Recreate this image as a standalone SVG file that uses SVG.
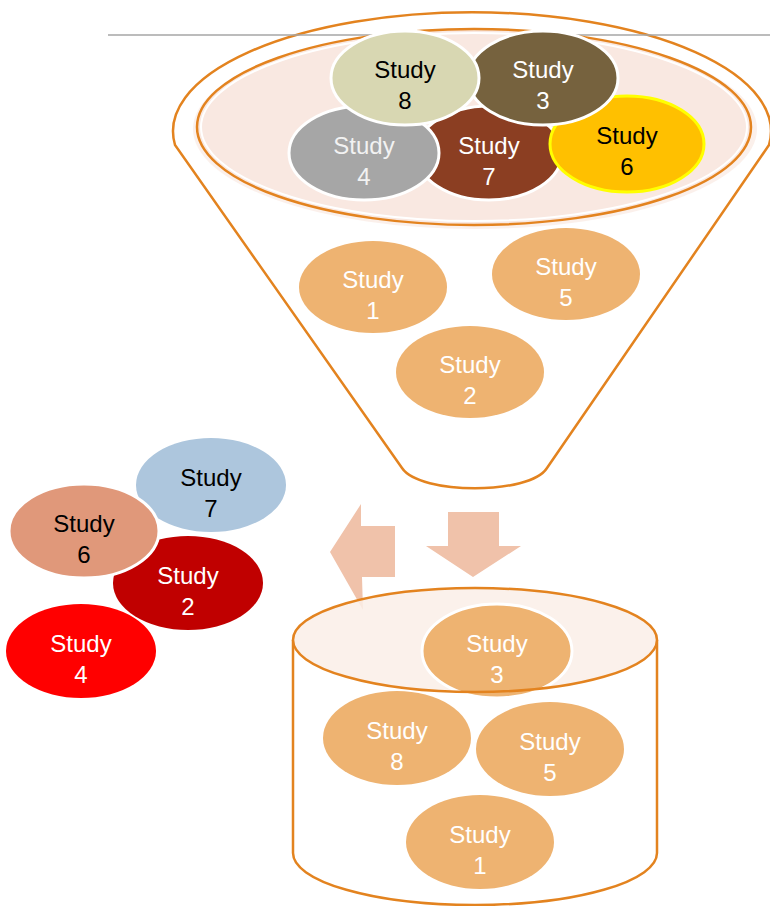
<svg xmlns="http://www.w3.org/2000/svg" width="770" height="906" viewBox="0 0 770 906">
<style>
.t{font-family:"Liberation Sans",Arial,sans-serif;font-size:24px;text-anchor:middle}
.w{fill:#ffffff}
.k{fill:#000000}
.or{fill:#EEB371}
.ws{stroke:#ffffff;stroke-width:3}
.edge{fill:none;stroke:#E3831F;stroke-width:2.5}
.arrow{fill:#F0C2AA}
</style>
<rect width="770" height="906" fill="#ffffff"/>

<g id="funnel">
  <path d="M175,145 A299,119 0 1 1 769,145 L547,468 C530,495 420,495 402,468 Z" fill="#ffffff" stroke="#E3831F" stroke-width="2.5"/>
</g>
<line x1="108" y1="35" x2="770" y2="35" stroke="#A6A6A6" stroke-width="1.5"/>
<g id="funnel-top">
  <ellipse cx="475" cy="129" rx="282" ry="100" fill="#F8E1D8" opacity="0.5"/>
  <ellipse cx="474" cy="127" rx="277" ry="98" fill="#F9E8E1" stroke="#E3831F" stroke-width="2.5"/>
  <ellipse cx="474" cy="127" rx="273" ry="94" fill="none" stroke="#ffffff" stroke-width="2"/>
</g>

<g id="f-study7"><ellipse cx="489" cy="153" rx="73" ry="47" fill="#8B3E22" class="ws"/><text class="t w" x="489" y="154">Study</text><text class="t w" x="489" y="185">7</text></g>
<g id="f-study6"><ellipse cx="627" cy="144" rx="77" ry="48" fill="#FFC000" stroke="#FFFF00" stroke-width="3"/><text class="t k" x="627" y="144">Study</text><text class="t k" x="627" y="175">6</text></g>
<g id="f-study3"><ellipse cx="543" cy="78" rx="75" ry="47" fill="#76623E" class="ws"/><text class="t w" x="543" y="78">Study</text><text class="t w" x="543" y="109">3</text></g>
<g id="f-study4"><ellipse cx="364" cy="153" rx="75" ry="47" fill="#A6A6A6" class="ws"/><text class="t" fill="#F2F2F2" x="364" y="154">Study</text><text class="t" fill="#F2F2F2" x="364" y="185">4</text></g>
<g id="f-study8"><ellipse cx="405" cy="78" rx="74" ry="47" fill="#D8D7B2" class="ws"/><text class="t k" x="405" y="78">Study</text><text class="t k" x="405" y="109">8</text></g>

<g id="f-study1"><ellipse cx="373" cy="287" rx="74" ry="46" class="or"/><text class="t w" x="373" y="288">Study</text><text class="t w" x="373" y="319">1</text></g>
<g id="f-study5"><ellipse cx="566" cy="274" rx="74" ry="46" class="or"/><text class="t w" x="566" y="275">Study</text><text class="t w" x="566" y="306">5</text></g>
<g id="f-study2"><ellipse cx="470" cy="372" rx="74" ry="46" class="or"/><text class="t w" x="470" y="373">Study</text><text class="t w" x="470" y="404">2</text></g>

<g id="l-study7"><ellipse cx="211" cy="485" rx="75" ry="47" fill="#ADC6DD"/><text class="t k" x="211" y="486">Study</text><text class="t k" x="211" y="517">7</text></g>
<g id="l-study2"><ellipse cx="188" cy="583" rx="75" ry="47" fill="#C00000"/><text class="t w" x="188" y="584">Study</text><text class="t w" x="188" y="615">2</text></g>
<g id="l-study6"><ellipse cx="84" cy="531" rx="75" ry="47" fill="#E0987A" class="ws"/><text class="t k" x="84" y="532">Study</text><text class="t k" x="84" y="563">6</text></g>
<g id="l-study4"><ellipse cx="81" cy="651" rx="75" ry="47" fill="#FF0000"/><text class="t w" x="81" y="652">Study</text><text class="t w" x="81" y="683">4</text></g>

<g id="connectors">
  <path class="arrow" d="M448,512 L499,512 L499,546 L521,546 L473,577 L426,546 L448,546 Z"/>
  <path class="arrow" d="M395,526 L395,577 L362,577 L363,610 L330,552 L361,504 L361,526 Z"/>
</g>

<g id="cylinder">
  <path d="M293,640 L293,853 A182,52 0 0 0 657,853 L657,640" fill="#ffffff" stroke="#E3831F" stroke-width="2.5"/>
  <ellipse cx="475" cy="640" rx="182" ry="52" fill="#FAEEE8" opacity="0.85"/>
</g>
<g id="c-study3"><ellipse cx="497" cy="651" rx="75" ry="47" class="or ws"/><text class="t w" x="497" y="652">Study</text><text class="t w" x="497" y="683">3</text></g>
<ellipse cx="475" cy="640" rx="182" ry="52" class="edge"/>
<g id="c-study8"><ellipse cx="397" cy="738" rx="74" ry="47" class="or"/><text class="t w" x="397" y="739">Study</text><text class="t w" x="397" y="770">8</text></g>
<g id="c-study5"><ellipse cx="550" cy="749" rx="74" ry="47" class="or"/><text class="t w" x="550" y="750">Study</text><text class="t w" x="550" y="781">5</text></g>
<g id="c-study1"><ellipse cx="480" cy="842" rx="74" ry="47" class="or"/><text class="t w" x="480" y="843">Study</text><text class="t w" x="480" y="874">1</text></g>
</svg>
